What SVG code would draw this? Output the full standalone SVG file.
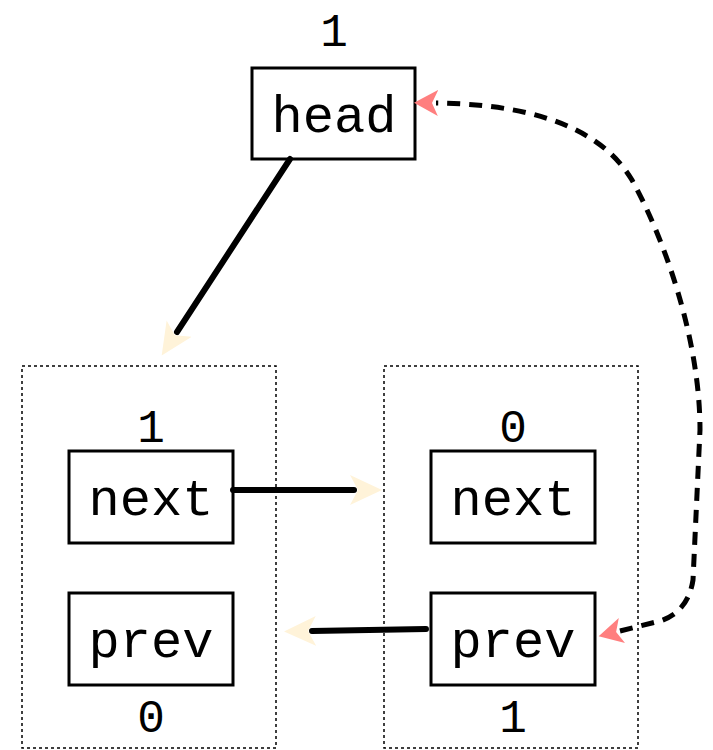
<svg xmlns="http://www.w3.org/2000/svg" width="713" height="750" viewBox="0 0 713 750">
<style>
.box{fill:#fff;stroke:#000;stroke-width:3}
.cont{fill:none;stroke:#000;stroke-width:1.5;stroke-dasharray:3,3}
.t{font-family:"Liberation Mono","Courier New",monospace;font-size:52px;fill:#000;text-anchor:middle}
.n{font-family:"Liberation Mono","Courier New",monospace;font-size:46px;fill:#000;text-anchor:middle}
.c{fill:none;stroke:#000;stroke-width:6;stroke-linecap:round}
.d{fill:none;stroke:#000;stroke-width:5;stroke-dasharray:13,9}
</style>
<defs>
<marker id="cream" markerUnits="userSpaceOnUse" markerWidth="40" markerHeight="40" refX="4" refY="20" orient="auto" viewBox="0 0 40 40">
<path d="M32,20 L0,5 L8,20 L0,35 Z" fill="#fff3d9"/>
</marker>
<marker id="red" markerUnits="userSpaceOnUse" markerWidth="30" markerHeight="30" refX="2" refY="15" orient="auto-start-reverse" viewBox="0 0 30 30">
<path d="M24,15 L0,2 L6,15 L0,28 Z" fill="#ff7f7f"/>
</marker>
</defs>
<g id="containers">
<rect id="node1" class="cont" x="22" y="366" width="254" height="382"/>
<rect id="node2" class="cont" x="384" y="366" width="254" height="382"/>
</g>
<g id="head">
<rect class="box" x="252" y="68" width="163" height="91"/>
<text class="t" x="334" y="132">head</text>
<text class="n" x="334" y="46">1</text>
</g>
<g id="next1">
<rect class="box" x="69" y="451" width="164" height="92"/>
<text class="t" x="151" y="515">next</text>
<text class="n" x="151" y="442">1</text>
</g>
<g id="prev1">
<rect class="box" x="69" y="593" width="164" height="92"/>
<text class="t" x="151" y="657">prev</text>
<text class="n" x="151" y="732">0</text>
</g>
<g id="next2">
<rect class="box" x="431" y="451" width="164" height="92"/>
<text class="t" x="513" y="515">next</text>
<text class="n" x="513" y="442">0</text>
</g>
<g id="prev2">
<rect class="box" x="431" y="593" width="164" height="92"/>
<text class="t" x="513" y="657">prev</text>
<text class="n" x="513" y="732">1</text>
</g>
<g id="connectors">
<path class="c" d="M290,159 L177,332" marker-end="url(#cream)"/>
<path class="c" d="M233,490 L354,490" marker-end="url(#cream)"/>
<path class="c" d="M426,629 L312,631" marker-end="url(#cream)"/>
<path class="d" d="M620,631 L660,621 Q688,612 693,580 L700,430 C700,340 665,240 632,180 C595,118 510,104 436,103" marker-start="url(#red)" marker-end="url(#red)"/>
</g>
</svg>
